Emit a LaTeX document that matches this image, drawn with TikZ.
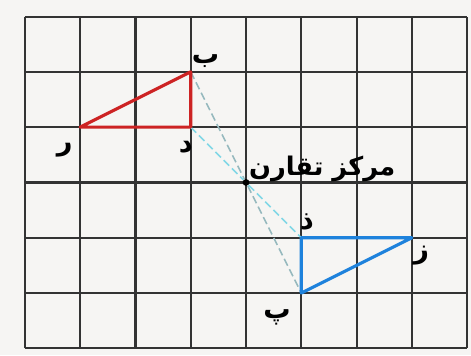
\documentclass[tikz,border=0pt]{standalone}
\usepackage{fontspec}
\newfontfamily\arabicfont[Script=Arabic]{DejaVu Sans}
\TeXXeTstate=1
\usetikzlibrary{positioning}
\definecolor{paper}{RGB}{246,245,243}
\definecolor{redtri}{RGB}{205,35,35}
\definecolor{bluetri}{RGB}{30,130,220}
\definecolor{guidegray}{RGB}{150,185,190}
\definecolor{guidecyan}{RGB}{130,215,230}

\begin{document}
\begin{tikzpicture}[
    gridline/.style={draw=black!80, line width=1.1pt},
    redside/.style={draw=redtri, line width=1.6pt, line join=round},
    blueside/.style={draw=bluetri, line width=1.6pt, line join=round},
    guide/.style={dashed, dash pattern=on 4pt off 2pt, line width=0.8pt},
    lbl/.style={font=\arabicfont\bfseries\fontsize{14}{16}\selectfont, inner sep=0pt},
    dot/.style={circle, fill=black, inner sep=0pt, minimum size=3.5pt}
]
    \fill[paper] (-0.45,-0.13) rectangle (8.07,6.30);
    \useasboundingbox (-0.45,-0.13) rectangle (8.07,6.30);
    \draw[gridline] (0,0) grid (8,6);

    % vertices
    \coordinate (R) at (1,4);
    \coordinate (D) at (3,4);
    \coordinate (B) at (3,5);
    \coordinate (Zh) at (7,2);
    \coordinate (Dh) at (5,2);
    \coordinate (P) at (5,1);
    \node[dot] (O) at (4,3) {};

    % guide lines through the centre
    \draw[guide, guidegray] (B) -- (O) -- (P);
    \draw[guide, guidecyan] (D) -- (O) -- (Dh);

    \draw[redside] (R) -- (D) -- (B) -- cycle;
    \draw[blueside] (Zh) -- (Dh) -- (P) -- cycle;

    % labels
    \node[lbl] (lB) at ([shift={(0.27,0.2)}]B) {\beginR ب\endR};
    \node[lbl] (lR) at ([shift={(-0.28,-0.42)}]R) {\beginR ر\endR};
    \node[lbl] (lD) at ([shift={(-0.09,-0.37)}]D) {\beginR د\endR};
    \node[lbl] (lDh) at ([shift={(0.1,0.29)}]Dh) {\beginR ذ\endR};
    \node[lbl] (lZh) at ([shift={(0.17,-0.32)}]Zh) {\beginR ز\endR};
    \node[lbl] (lP) at ([shift={(-0.44,-0.44)}]P) {\beginR پ\endR};
    \node[lbl, anchor=south west, font=\arabicfont\bfseries\fontsize{13.2}{16}\selectfont] (lO) at ([shift={(0.05,0.0)}]O) {\beginR مرکز تقارن\endR};
\end{tikzpicture}
\end{document}
